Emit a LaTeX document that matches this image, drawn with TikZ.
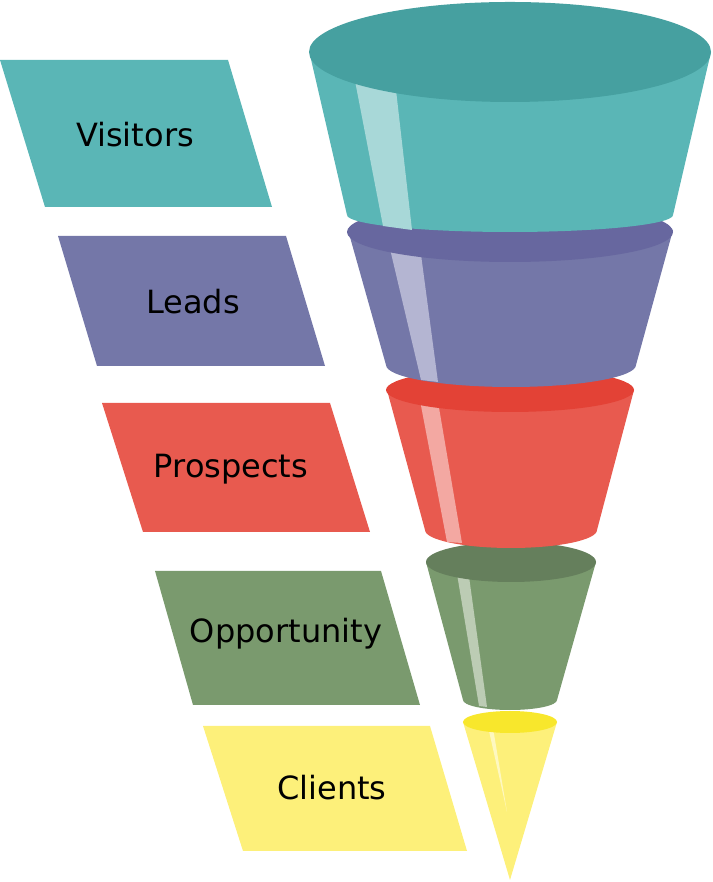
\documentclass[tikz,border=0pt]{standalone}
\usepackage{fontspec}
\setmainfont{DejaVu Sans}
\definecolor{tealB}{HTML}{5AB6B6}\definecolor{tealT}{HTML}{46A0A0}\definecolor{tealH}{HTML}{A8D8D8}
\definecolor{purB}{HTML}{7477A8}\definecolor{purT}{HTML}{67679F}\definecolor{purH}{HTML}{B4B5D2}
\definecolor{redB}{HTML}{E85A4F}\definecolor{redT}{HTML}{E34236}\definecolor{redH}{HTML}{F3A8A2}
\definecolor{grnB}{HTML}{7A9A6E}\definecolor{grnT}{HTML}{657F5C}\definecolor{grnH}{HTML}{BCCCB4}
\definecolor{yelB}{HTML}{FDF07A}\definecolor{yelT}{HTML}{F8E72C}\definecolor{yelH}{HTML}{FEF8C0}
\tikzset{lbl/.style={font=\fontsize{32}{38}\selectfont,text=black}}
\begin{document}
\begin{tikzpicture}[x=1pt,y=1pt]
\useasboundingbox (0,0) rectangle (712,882);
% labels
\fill[tealB] (0,822)--(228,822)--(272,675)--(45,675)--cycle;
\fill[purB] (58,646)--(286,646)--(325,516)--(97,516)--cycle;
\fill[redB] (102,479)--(330,479)--(370,350)--(143,350)--cycle;
\fill[grnB] (155,311)--(381,311)--(420,177)--(193,177)--cycle;
\fill[yelB] (203,156)--(430,156)--(467,31)--(243,31)--cycle;
\node[lbl] (v) at (135,747) {Visitors};
\node[lbl] (l) at (193,580) {Leads};
\node[lbl] (p) at (231,413) {Prospects};
\node[lbl] (o) at (286,248) {Opportunity};
\node[lbl] (c) at (332,94) {Clients};
% yellow
\fill[yelB] (463,160)--(510,2)--(557,160)--cycle;
\fill[yelH] (487,160)--(507,70)--(492,160)--cycle;
\fill[yelT] (510,160) ellipse[x radius=47,y radius=11];
% green
\fill[grnB] (426,320)--(463,182) arc[start angle=180,end angle=360,x radius=47,y radius=10]--(596,320)--cycle;
\fill[grnH] (455,320)--(479,176)--(487,175)--(467,320)--cycle;
\fill[grnT] (511,320) ellipse[x radius=85,y radius=20];
% red
\fill[redB] (387,492)--(425,352) arc[start angle=180,end angle=360,x radius=86,y radius=18]--(634,492)--cycle;
\fill[redH] (418,492)--(447,340)--(462,339)--(436,492)--cycle;
\fill[redT] (510,492) ellipse[x radius=124,y radius=22];
% purple
\fill[purB] (348,652)--(386,517) arc[start angle=180,end angle=360,x radius=125,y radius=22]--(673,652)--cycle;
\fill[purH] (386,650)--(421,502)--(438,500)--(418,650)--cycle;
\fill[purT] (510,650) ellipse[x radius=163,y radius=30];
% teal
\fill[tealB] (310,827)--(347,667) arc[start angle=180,end angle=360,x radius=163,y radius=17]--(711,830)--cycle;
\fill[tealH] (350,827)--(383,656)--(412,652)--(392,827)--cycle;
\fill[tealT] (510,830) ellipse[x radius=201,y radius=50];
\end{tikzpicture}
\end{document}
